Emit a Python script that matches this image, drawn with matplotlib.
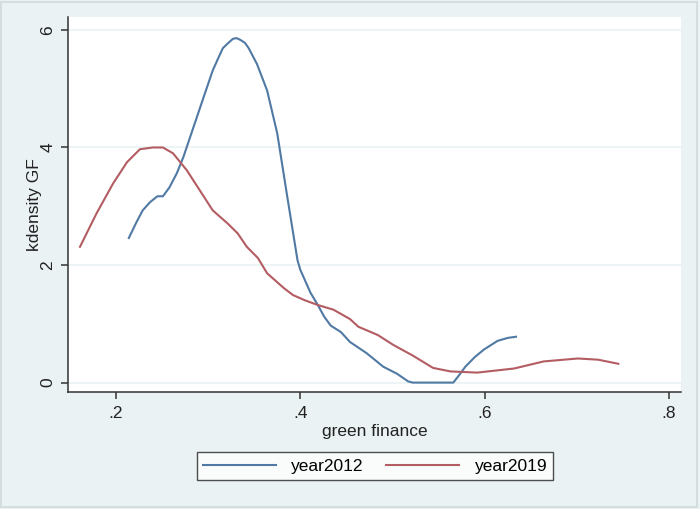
import matplotlib.pyplot as plt

plt.rcParams['font.family'] = ['Liberation Sans', 'DejaVu Sans']

# kdensity curves
x2012 = [0.214, 0.222, 0.229, 0.237, 0.245, 0.251, 0.258, 0.266, 0.273, 0.284,
         0.295, 0.305, 0.311, 0.316, 0.322, 0.327, 0.331, 0.335, 0.340, 0.344,
         0.353, 0.364, 0.375, 0.386, 0.397, 0.400, 0.411, 0.419, 0.426, 0.433,
         0.444, 0.454, 0.472, 0.490, 0.505, 0.517, 0.522, 0.566, 0.572, 0.579,
         0.589, 0.599, 0.614, 0.625, 0.634]
y2012 = [2.46, 2.72, 2.93, 3.07, 3.17, 3.17, 3.32, 3.56, 3.83, 4.34,
         4.85, 5.31, 5.52, 5.69, 5.78, 5.85, 5.86, 5.83, 5.78, 5.69,
         5.42, 4.97, 4.24, 3.15, 2.08, 1.92, 1.53, 1.32, 1.12, 0.97,
         0.86, 0.69, 0.50, 0.27, 0.15, 0.02, 0.0, 0.0, 0.12, 0.27,
         0.43, 0.56, 0.71, 0.76, 0.78]

x2019 = [0.161, 0.179, 0.197, 0.212, 0.226, 0.240, 0.251, 0.262, 0.277, 0.291,
         0.305, 0.321, 0.332, 0.342, 0.354, 0.364, 0.382, 0.392, 0.405, 0.419,
         0.436, 0.454, 0.463, 0.484, 0.501, 0.522, 0.544, 0.563, 0.592, 0.632,
         0.664, 0.701, 0.723, 0.745]
y2019 = [2.31, 2.88, 3.39, 3.75, 3.97, 4.00, 4.00, 3.90, 3.61, 3.27,
         2.93, 2.71, 2.54, 2.31, 2.12, 1.86, 1.61, 1.49, 1.40, 1.32,
         1.24, 1.08, 0.95, 0.81, 0.64, 0.46, 0.25, 0.19, 0.17, 0.24,
         0.36, 0.41, 0.39, 0.32]

xticks = [0.2, 0.4, 0.6, 0.8]
xticklabels = ['.2', '.4', '.6', '.8']
yticks = [0, 2, 4, 6]

bg = '#EAF2F3'
c2012 = '#5079A3'
c2019 = '#B35C62'
fs = 12.5

fig = plt.figure(figsize=(7, 5.09), dpi=100, facecolor=bg)
ax = fig.add_axes([68 / 700, 1 - 392 / 509, 613 / 700, 375 / 509])
ax.set_facecolor('white')

for y in yticks:
    ax.axhline(y, color=bg, lw=1.2, zorder=0)

ax.plot(x2012, y2012, color=c2012, lw=1.5, label='year2012')
ax.plot(x2019, y2019, color=c2019, lw=1.5, label='year2019')

ax.set_xlim(0.148, 0.813)
ax.set_ylim(-0.16, 6.22)
ax.set_xticks(xticks)
ax.set_xticklabels(xticklabels)
ax.set_yticks(yticks)
ax.set_yticklabels([str(v) for v in yticks], rotation=90, va='center')

for s in ['top', 'right']:
    ax.spines[s].set_visible(False)
for s in ['left', 'bottom']:
    ax.spines[s].set_color('#333333')
    ax.spines[s].set_linewidth(1.1)

ax.tick_params(axis='both', direction='out', length=5, width=1.1,
               color='#333333', labelsize=fs, labelcolor='#222222', pad=5)
ax.tick_params(axis='y', pad=4)

ax.set_xlabel('green finance', fontsize=fs, color='#222222', labelpad=2)
ax.set_ylabel('kdensity GF', fontsize=fs, color='#222222', labelpad=-1)

leg = fig.legend(loc='center', bbox_to_anchor=(375 / 700, 1 - 466 / 509),
                 ncol=2, frameon=True, fancybox=False, fontsize=fs,
                 handlelength=4.2, columnspacing=1.3, handletextpad=0.9,
                 borderpad=0.35, borderaxespad=0)
leg.get_frame().set_edgecolor('#222222')
leg.get_frame().set_linewidth(1.0)

fig.patches.append(plt.Rectangle((0.002, 0.003), 0.994, 0.994, transform=fig.transFigure,
                                 fill=False, edgecolor='#D5DDDF', lw=1.5))

fig.savefig('out.png', dpi=100, facecolor=bg)
